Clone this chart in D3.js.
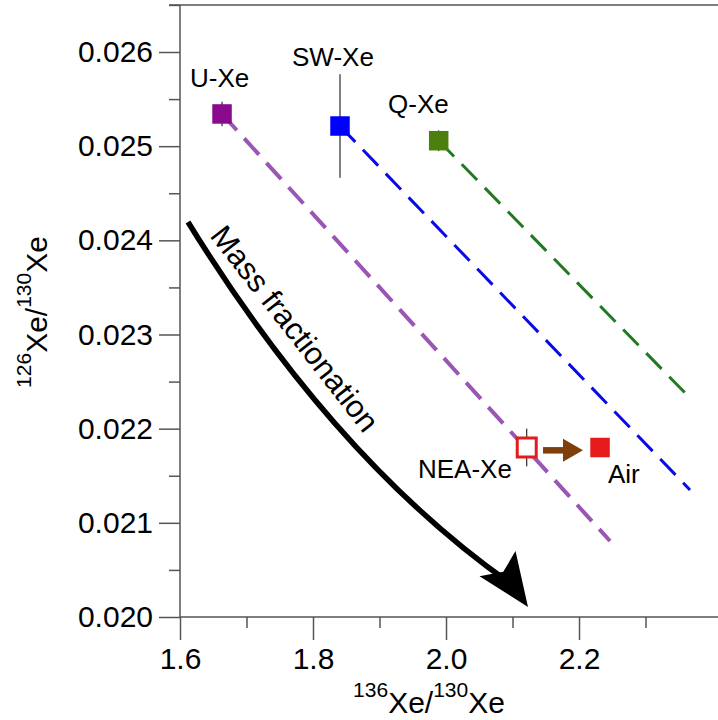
<!DOCTYPE html>
<html>
<head>
<meta charset="utf-8">
<script src="https://cdn.jsdelivr.net/npm/d3@7"></script>
<style>
  html, body { margin: 0; padding: 0; background: #fff; }
  svg { display: block; font-family: "Liberation Sans", Arial, Helvetica, sans-serif; }
</style>
</head>
<body>
<svg id="chart" width="718" height="720"></svg>
<script>
// Xenon end-members: 136Xe/130Xe vs 126Xe/130Xe
const names      = ["U-Xe", "SW-Xe", "Q-Xe", "NEA-Xe", "Air"];
const xe136      = [1.6632, 1.8406, 1.989, 2.1214, 2.2316];
const xe126      = [0.025342, 0.025214, 0.025058, 0.02180, 0.02180];
const xe126Err   = [0.00013, 0.00055, 0.00011, 0.0002, 0.00005];
const fills      = ["#8a0a8e", "#0000ff", "#4b7f0e", "#ffffff", "#e41a1c"];
const strokes    = ["none", "none", "none", "#e41a1c", "none"];

// Mass-fractionation lines starting at U-Xe, SW-Xe and Q-Xe
const fracFrom   = ["U-Xe", "SW-Xe", "Q-Xe"];
const fracEndX   = [2.2466, 2.3669, 2.3669];
const fracEndY   = [0.020807, 0.021349, 0.022326];
const fracColors = ["#9b55b5", "#0a0ae6", "#217a21"];

// Label anchors (start of text baseline)
const labelX     = [1.6150, 1.7684, 1.9128, 1.9579, 2.2436];
const labelY     = [0.025628, 0.025851, 0.025352, 0.021476, 0.021423];

// Big curved "Mass fractionation" arrow: start, control, end of shaft, tip
const mfStart    = [1.6120, 0.024195];
const mfControl  = [1.8336, 0.019877 + 0.001780];
const mfEnd      = [2.1000, 0.020340];
const mfTip      = [2.1233, 0.020106];
const mfTextAt   = [1.6436, 0.024046];

// NEA-Xe -> Air shift arrow
const shiftFrom  = [2.1459, 0.02177];
const shiftTo    = [2.2060, 0.02177];

// Ticks
const xMajor = [1.6, 1.8, 2.0, 2.2];
const xMinor = [1.7, 1.9, 2.1, 2.3];
const yMajor = [0.020, 0.021, 0.022, 0.023, 0.024, 0.025, 0.026];
const yMinor = [0.0205, 0.0215, 0.0225, 0.0235, 0.0245, 0.0255, 0.0265];

const svg = d3.select("#chart");
const x = d3.scaleLinear().domain([1.6, 2.409]).range([180, 718]);
const y = d3.scaleLinear().domain([0.020, 0.026]).range([617, 52]);
const axisColor = "#555";

// Axes
const gx = svg.append("g").attr("transform", `translate(0,${y(0.020)})`);
gx.call(d3.axisBottom(x).tickValues(xMajor).tickSize(23).tickPadding(8)
  .tickFormat(d3.format(".1f")));
const gxm = svg.append("g").attr("transform", `translate(0,${y(0.020)})`);
gxm.call(d3.axisBottom(x).tickValues(xMinor).tickSize(11).tickFormat(""));

const gy = svg.append("g").attr("transform", `translate(${x(1.6)},0)`);
gy.call(d3.axisLeft(y).tickValues(yMajor).tickSize(21).tickPadding(6)
  .tickFormat(d3.format(".3f")));
const gym = svg.append("g").attr("transform", `translate(${x(1.6)},0)`);
gym.call(d3.axisLeft(y).tickValues(yMinor).tickSize(11).tickFormat(""));

[gx, gxm, gy, gym].forEach(g => {
  g.select(".domain").remove();
  g.selectAll(".tick line").attr("stroke", axisColor).attr("stroke-width", 1.5);
  g.selectAll(".tick text").attr("fill", "#000").style("font-size", "30px")
    .style("font-family", "'Liberation Sans', Arial, Helvetica, sans-serif");
});

// Frame lines: left, bottom, top
const yTop = y(0.0265);
svg.append("line").attr("x1", x(1.6)).attr("x2", x(1.6)).attr("y1", yTop).attr("y2", y(0.020))
  .attr("stroke", axisColor).attr("stroke-width", 1.5);
svg.append("line").attr("x1", x(1.6)).attr("x2", 718).attr("y1", y(0.020)).attr("y2", y(0.020))
  .attr("stroke", axisColor).attr("stroke-width", 1.5);
svg.append("line").attr("x1", x(1.6) - 11).attr("x2", 718).attr("y1", yTop).attr("y2", yTop)
  .attr("stroke", axisColor).attr("stroke-width", 1.5);

// Axis titles
const xt = svg.append("text").attr("x", 429).attr("y", 713).attr("text-anchor", "middle").attr("fill", "#000");
xt.append("tspan").style("font-size", "21px").attr("dy", -16).text("136");
xt.append("tspan").style("font-size", "30px").attr("dy", 16).text("Xe/");
xt.append("tspan").style("font-size", "21px").attr("dy", -16).text("130");
xt.append("tspan").style("font-size", "30px").attr("dy", 16).text("Xe");

const yt = svg.append("text").attr("transform", "translate(47,312) rotate(-90)")
  .attr("text-anchor", "middle").attr("fill", "#000");
yt.append("tspan").style("font-size", "21px").attr("dy", -16).text("126");
yt.append("tspan").style("font-size", "30px").attr("dy", 16).text("Xe/");
yt.append("tspan").style("font-size", "21px").attr("dy", -16).text("130");
yt.append("tspan").style("font-size", "30px").attr("dy", 16).text("Xe");

// Dashed fractionation lines
fracFrom.forEach((n, i) => {
  const k = names.indexOf(n);
  svg.append("line")
    .attr("x1", x(xe136[k])).attr("y1", y(xe126[k]))
    .attr("x2", x(fracEndX[i])).attr("y2", y(fracEndY[i]))
    .attr("stroke", fracColors[i]).attr("stroke-width", i === 0 ? 4 : 3)
    .attr("stroke-dasharray", "22,11");
});

// Error bars
names.forEach((n, i) => {
  svg.append("line")
    .attr("x1", x(xe136[i])).attr("x2", x(xe136[i]))
    .attr("y1", y(xe126[i] + xe126Err[i])).attr("y2", y(xe126[i] - xe126Err[i]))
    .attr("stroke", "#000").attr("stroke-width", 1);
});

// Square markers
names.forEach((n, i) => {
  const open = strokes[i] !== "none";
  const s = open ? 19 : 19.5;
  svg.append("rect")
    .attr("x", x(xe136[i]) - s / 2).attr("y", y(xe126[i]) - s / 2)
    .attr("width", s).attr("height", s)
    .attr("fill", fills[i])
    .attr("stroke", strokes[i]).attr("stroke-width", open ? 3 : 0);
});

// Point labels
names.forEach((n, i) => {
  svg.append("text").attr("x", x(labelX[i])).attr("y", y(labelY[i]))
    .style("font-size", "26px").attr("fill", "#000").text(n);
});

// NEA-Xe -> Air arrow
{
  const x0 = x(shiftFrom[0]), x1 = x(shiftTo[0]), yy = y(shiftFrom[1]);
  const headLen = 20, headHalf = 11.5;
  svg.append("line").attr("x1", x0).attr("x2", x1 - headLen + 2).attr("y1", yy).attr("y2", yy)
    .attr("stroke", "#7f3f0a").attr("stroke-width", 6.5);
  svg.append("path")
    .attr("d", `M${x1},${yy} L${x1 - headLen},${yy - headHalf} L${x1 - headLen},${yy + headHalf} Z`)
    .attr("fill", "#7f3f0a");
}

// Curved mass-fractionation arrow
{
  const p0 = [x(mfStart[0]), y(mfStart[1])];
  const c  = [x(mfControl[0]), y(mfControl[1])];
  const p2 = [x(mfEnd[0]), y(mfEnd[1])];
  const tip = [x(mfTip[0]), y(mfTip[1])];
  const p = d3.path();
  p.moveTo(p0[0], p0[1]);
  p.quadraticCurveTo(c[0], c[1], p2[0], p2[1]);
  svg.append("path").attr("d", p.toString()).attr("fill", "none")
    .attr("stroke", "#000").attr("stroke-width", 5.5);

  const ang = Math.atan2(tip[1] - p2[1], tip[0] - p2[0]);
  const d = [Math.cos(ang), Math.sin(ang)], nrm = [-d[1], d[0]];
  const len = 53, half = 22, notch = 43;
  const pt = (a, b) => [tip[0] + d[0] * a + nrm[0] * b, tip[1] + d[1] * a + nrm[1] * b];
  const b1 = pt(-len, half), b2 = pt(-len, -half), nt = pt(-notch, 0);
  svg.append("path")
    .attr("d", `M${tip[0]},${tip[1]} L${b1[0]},${b1[1]} L${nt[0]},${nt[1]} L${b2[0]},${b2[1]} Z`)
    .attr("fill", "#000");

  svg.append("text")
    .attr("transform", `translate(${x(mfTextAt[0])},${y(mfTextAt[1])}) rotate(52)`)
    .style("font-size", "31px").attr("fill", "#000").text("Mass fractionation");
}
</script>
</body>
</html>
